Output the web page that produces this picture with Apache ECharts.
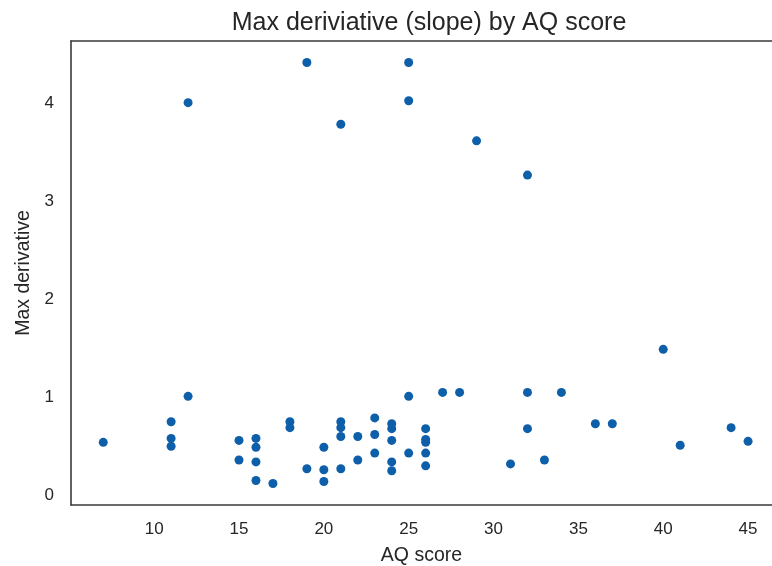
<!DOCTYPE html>
<html>
<head>
<meta charset="utf-8">
<script src="https://cdn.jsdelivr.net/npm/echarts@6/dist/echarts.min.js"></script>
<style>
  html, body { margin: 0; padding: 0; background: #fff; }
  #main { width: 772px; height: 566px; }
</style>
</head>
<body>
<div id="main"></div>
<script>
// AQ score per participant
var aqScore = [
  7, 11, 11, 11, 12, 12,
  15, 15, 16, 16, 16, 16, 17,
  18, 18, 19, 19, 20, 20, 20,
  21, 21, 21, 21, 21, 22, 22,
  23, 23, 23, 24, 24, 24, 24, 24,
  25, 25, 25, 25, 26, 26, 26, 26, 26,
  27, 28, 29, 31, 32, 32, 32, 33,
  34, 36, 37, 40, 41, 44, 45
];
// max derivative (slope), same order
var maxDeriv = [
  0.54, 0.75, 0.58, 0.50, 1.01, 4.01,
  0.56, 0.36, 0.58, 0.49, 0.34, 0.15, 0.12,
  0.75, 0.69, 4.42, 0.27, 0.49, 0.26, 0.14,
  3.79, 0.75, 0.69, 0.60, 0.27, 0.60, 0.36,
  0.79, 0.62, 0.43, 0.73, 0.68, 0.56, 0.34, 0.25,
  4.42, 4.03, 1.01, 0.43, 0.68, 0.57, 0.54, 0.43, 0.30,
  1.05, 1.05, 3.62, 0.32, 3.27, 1.05, 0.68, 0.36,
  1.05, 0.73, 0.73, 1.49, 0.51, 0.69, 0.55
];

var points = [];
for (var i = 0; i < aqScore.length; i++) {
  points.push([aqScore[i], maxDeriv[i]]);
}

var textCol = '#262626';
var spineCol = '#3a3a3a';
var font = 'Liberation Sans, Arial, sans-serif';

function wholeOnly(v) {
  return Math.abs(v - Math.round(v)) < 1e-6 ? String(Math.round(v)) : '';
}

var myChart = echarts.init(document.getElementById('main'));
var option = {
  backgroundColor: '#ffffff',
  animation: false,
  title: {
    text: 'Max deriviative (slope) by AQ score',
    left: 424,
    top: 6,
    textAlign: 'center',
    textStyle: { color: textCol, fontFamily: font, fontSize: 25, fontWeight: 'normal' }
  },
  // plot runs past the right edge of the picture (cropped), so the
  // x range is cut at the canvas edge
  grid: { left: 71, top: 41, right: 0, height: 464, outerBoundsMode: 'none', containLabel: false },
  xAxis: [{
    type: 'value',
    min: 5.1,
    max: 46.41,
    splitNumber: 8,
    name: 'AQ score',
    nameLocation: 'middle',
    nameGap: 41,
    nameTextStyle: { color: textCol, fontFamily: font, fontSize: 19.5 },
    axisLine: { show: true, onZero: false, lineStyle: { color: spineCol, width: 1.6 } },
    axisTick: { show: false },
    splitLine: { show: false },
    axisLabel: {
      color: textCol, fontFamily: font, fontSize: 17, margin: 16,
      showMinLabel: false, showMaxLabel: false,
      formatter: wholeOnly
    }
  }, {
    type: 'value',
    position: 'top',
    min: 5.1,
    max: 46.41,
    axisLine: { show: true, onZero: false, lineStyle: { color: spineCol, width: 1.6 } },
    axisTick: { show: false },
    axisLabel: { show: false },
    splitLine: { show: false }
  }],
  yAxis: {
    type: 'value',
    min: -0.1,
    max: 4.64,
    splitNumber: 5,
    name: 'Max derivative',
    nameLocation: 'middle',
    nameGap: 37,
    nameTextStyle: { color: textCol, fontFamily: font, fontSize: 19.5 },
    axisLine: { show: true, onZero: false, lineStyle: { color: spineCol, width: 1.6 } },
    axisTick: { show: false },
    splitLine: { show: false },
    axisLabel: {
      color: textCol, fontFamily: font, fontSize: 17, margin: 17,
      showMinLabel: false, showMaxLabel: false,
      formatter: wholeOnly
    }
  },
  series: [{
    type: 'scatter',
    data: points,
    symbolSize: 9,
    itemStyle: { color: '#0e5fa9', opacity: 1 }
  }]
};
myChart.setOption(option);
</script>
</body>
</html>
